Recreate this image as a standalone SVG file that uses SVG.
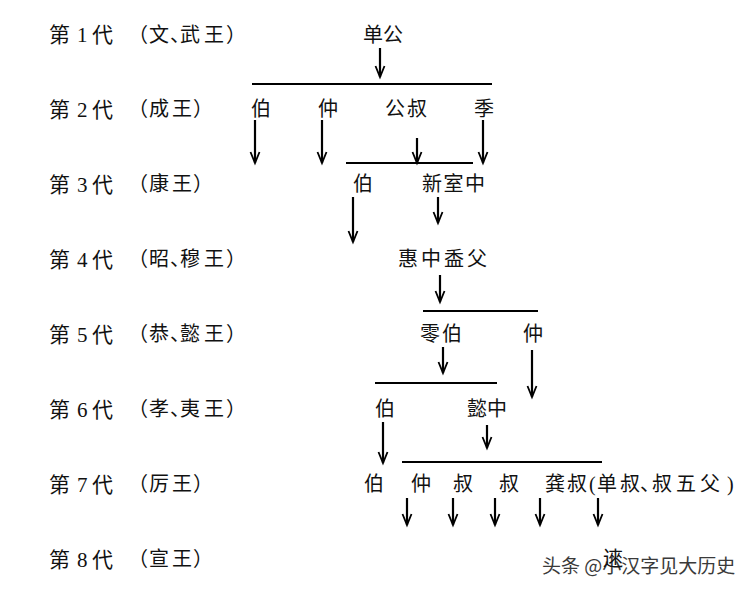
<svg xmlns="http://www.w3.org/2000/svg" width="755" height="592" viewBox="0 0 755 592">
<defs>
<style>
text{font-family:"Liberation Serif","Noto Sans CJK SC",serif;font-size:20px;fill:#111}
.gen{font-size:21px}
.conn line{stroke:#000;stroke-width:2}
.conn .arr{stroke-width:2.2;marker-end:url(#ah)}
.wm{font-family:"Noto Sans CJK SC",sans-serif;font-size:19px;fill:#3a3a3a;stroke:#fff;stroke-width:3;paint-order:stroke;stroke-linejoin:round}
</style>
<marker id="ah" markerUnits="userSpaceOnUse" orient="auto" overflow="visible" refX="0" refY="0" markerWidth="1" markerHeight="1">
<path d="M-11,-4.5 L0,0 L-11,4.5" fill="none" stroke="#000" stroke-width="1.8"/>
</marker>
</defs>
<rect width="755" height="592" fill="#fff"/>

<g id="generations">
<text class="gen" x="49 77 92" y="42">第1代</text>
<text x="128 149 170 180 204 226" y="42">（文、武王）</text>
<text class="gen" x="49 77 92" y="117">第2代</text>
<text x="128 149 172 193" y="116">（成王）</text>
<text class="gen" x="49 77 92" y="192">第3代</text>
<text x="128 149 172 193" y="191">（康王）</text>
<text class="gen" x="49 77 92" y="267">第4代</text>
<text x="128 149 170 180 204 226" y="266">（昭、穆王）</text>
<text class="gen" x="49 77 92" y="342">第5代</text>
<text x="128 149 170 180 204 226" y="341">（恭、懿王）</text>
<text class="gen" x="49 77 92" y="417">第6代</text>
<text x="128 149 170 180 204 226" y="416">（孝、夷王）</text>
<text class="gen" x="49 77 92" y="492">第7代</text>
<text x="128 149 172 193" y="491">（厉王）</text>
<text class="gen" x="49 77 92" y="567">第8代</text>
<text x="128 149 172 193" y="566">（宣王）</text>
</g>

<g id="n-shangong"><text x="363" y="42">单公</text></g>
<g id="n-g2-bo"><text x="251" y="116">伯</text></g>
<g id="n-g2-zhong"><text x="318" y="116">仲</text></g>
<g id="n-g2-gongshu"><text x="385" y="116" letter-spacing="2">公叔</text></g>
<g id="n-g2-ji"><text x="474" y="116">季</text></g>
<g id="n-g3-bo"><text x="353" y="191">伯</text></g>
<g id="n-g3-xinshizhong"><text x="422" y="191" letter-spacing="1.5">新室中</text></g>
<g id="n-g4-huizhong"><text x="398" y="266" letter-spacing="3">惠中盉父</text></g>
<g id="n-g5-qiubo"><text x="420" y="341" letter-spacing="2">零伯</text></g>
<g id="n-g5-zhong"><text x="523" y="341">仲</text></g>
<g id="n-g6-bo"><text x="375" y="416">伯</text></g>
<g id="n-g6-yizhong"><text x="467" y="416">懿中</text></g>
<g id="n-g7-bo"><text x="364" y="491">伯</text></g>
<g id="n-g7-zhong"><text x="411" y="491">仲</text></g>
<g id="n-g7-shu1"><text x="453" y="491">叔</text></g>
<g id="n-g7-shu2"><text x="499" y="491">叔</text></g>
<g id="n-g7-gongshu"><text x="545 567 589 597 620 640 652 676 700 727" y="491">龚叔(单叔、叔五父)</text></g>

<g id="watermark"><text class="wm" x="542" y="573">头条 @小汉字见大历史</text></g>
<g id="n-g8-lai"><text x="603" y="566">逨</text></g>

<g id="connectors" class="conn">
<line x1="252" y1="84" x2="492" y2="84"/>
<line x1="346" y1="163" x2="473" y2="163"/>
<line x1="423" y1="311" x2="538" y2="311"/>
<line x1="375" y1="383" x2="497" y2="383"/>
<line x1="402" y1="462" x2="602" y2="462"/>

<line class="arr" x1="380" y1="48" x2="380" y2="77"/>
<line class="arr" x1="255" y1="120" x2="255" y2="163"/>
<line class="arr" x1="322" y1="120" x2="322" y2="163"/>
<line class="arr" x1="417" y1="138" x2="417" y2="163"/>
<line class="arr" x1="483" y1="120" x2="483" y2="163"/>
<line class="arr" x1="353" y1="197" x2="353" y2="242"/>
<line class="arr" x1="438" y1="197" x2="438" y2="223"/>
<line class="arr" x1="440" y1="275" x2="440" y2="302"/>
<line class="arr" x1="443" y1="347" x2="443" y2="373"/>
<line class="arr" x1="532" y1="350" x2="532" y2="397"/>
<line class="arr" x1="383" y1="422" x2="383" y2="463"/>
<line class="arr" x1="487" y1="425" x2="487" y2="448"/>
<line class="arr" x1="407" y1="498" x2="407" y2="525"/>
<line class="arr" x1="453" y1="498" x2="453" y2="525"/>
<line class="arr" x1="495" y1="498" x2="495" y2="525"/>
<line class="arr" x1="540" y1="498" x2="540" y2="525"/>
<line class="arr" x1="598" y1="498" x2="598" y2="525"/>
</g>
</svg>
